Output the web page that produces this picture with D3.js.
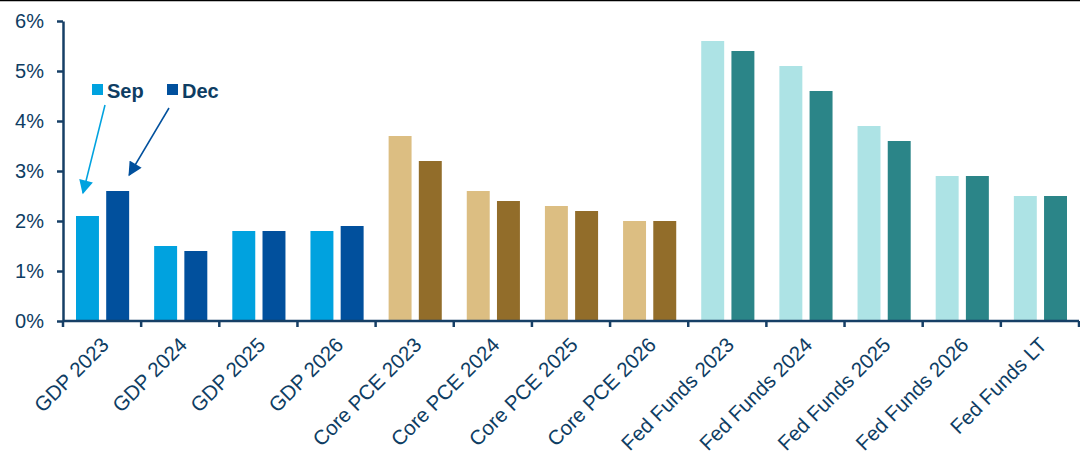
<!DOCTYPE html>
<html>
<head>
<meta charset="utf-8">
<script src="https://cdn.jsdelivr.net/npm/d3@7"></script>
<style>
  body { margin: 0; background: #fff; }
  svg { display: block; font-family: "Liberation Sans", Arial, sans-serif; }
</style>
</head>
<body>
<div id="chart"></div>
<script>
// chart data
const categories = ['GDP 2023', 'GDP 2024', 'GDP 2025', 'GDP 2026',
  'Core PCE 2023', 'Core PCE 2024', 'Core PCE 2025', 'Core PCE 2026',
  'Fed Funds 2023', 'Fed Funds 2024', 'Fed Funds 2025', 'Fed Funds 2026', 'Fed Funds LT']
const groups = ['GDP', 'GDP', 'GDP', 'GDP', 'PCE', 'PCE', 'PCE', 'PCE',
  'FED', 'FED', 'FED', 'FED', 'FED']
const sepValues = [2.1, 1.5, 1.8, 1.8, 3.7, 2.6, 2.3, 2.0, 5.6, 5.1, 3.9, 2.9, 2.5]
const decValues = [2.6, 1.4, 1.8, 1.9, 3.2, 2.4, 2.2, 2.0, 5.4, 4.6, 3.6, 2.9, 2.5]
const series = ['Sep', 'Dec']
const yTicks = [0, 1, 2, 3, 4, 5, 6]

const colors = {
  GDP: { Sep: '#00a2df', Dec: '#01509d' },
  PCE: { Sep: '#dcbe82', Dec: '#926d2a' },
  FED: { Sep: '#ade3e5', Dec: '#2b8588' }
}
const textColor = '#0e3d63'
const axisColor = '#163f66'

const svgWidth = 1080, svgHeight = 454
const margin = { top: 21, right: 1, bottom: 133, left: 63 }
const width = svgWidth - margin.left - margin.right
const height = svgHeight - margin.top - margin.bottom

const svg = d3.select('#chart').append('svg')
  .attr('width', svgWidth)
  .attr('height', svgHeight)

// thin frame line across the top
svg.append('line')
  .attr('x1', 0).attr('x2', svgWidth)
  .attr('y1', 0.5).attr('y2', 0.5)
  .attr('stroke', '#000').attr('stroke-width', 1.5)

const g = svg.append('g')
  .attr('transform', `translate(${margin.left},${margin.top})`)

const x = d3.scaleBand().domain(categories).range([0, width]).paddingInner(0).paddingOuter(0)
const x1 = d3.scaleBand().domain(series).range([13, x.bandwidth() - 12]).paddingInner(0.24)
const y = d3.scaleLinear().domain([0, 6]).range([height, 0])

// bars
const rows = categories.map((c, i) => ({ cat: c, grp: groups[i], Sep: sepValues[i], Dec: decValues[i] }))
const cat = g.selectAll('g.cat').data(rows).enter().append('g')
  .attr('class', 'cat')
  .attr('transform', d => `translate(${x(d.cat)},0)`)
cat.selectAll('rect')
  .data(d => series.map(s => ({ s, v: d[s], grp: d.grp })))
  .enter().append('rect')
  .attr('x', d => x1(d.s))
  .attr('width', x1.bandwidth())
  .attr('y', d => y(d.v))
  .attr('height', d => y(0) - y(d.v))
  .attr('fill', d => colors[d.grp][d.s])

// y axis
const yAxis = g.append('g')
  .call(d3.axisLeft(y).tickValues(yTicks).tickFormat(d => d + '%').tickSize(6).tickSizeOuter(0))
yAxis.select('.domain').attr('stroke', axisColor).attr('stroke-width', 2.5)
yAxis.selectAll('.tick line').attr('stroke', axisColor).attr('stroke-width', 2.5)
yAxis.selectAll('.tick text')
  .attr('fill', textColor).attr('font-size', 20).attr('x', -19)
  .attr('font-family', '"Liberation Sans", Arial, sans-serif')

// x axis: line plus ticks at band boundaries
const xAxis = g.append('g').attr('transform', `translate(0,${height})`)
xAxis.append('line')
  .attr('x1', 0).attr('x2', width)
  .attr('stroke', axisColor).attr('stroke-width', 2.5)
xAxis.selectAll('line.tk')
  .data(categories.map(c => x(c)).concat([width]))
  .enter().append('line')
  .attr('class', 'tk')
  .attr('x1', d => d).attr('x2', d => d)
  .attr('y1', 0).attr('y2', 6)
  .attr('stroke', axisColor).attr('stroke-width', 2.5)
xAxis.selectAll('text')
  .data(categories)
  .enter().append('text')
  .attr('transform', d => `translate(${x(d) + x.bandwidth() / 2 + 3},${20}) rotate(-45)`)
  .attr('text-anchor', 'end')
  .attr('dy', '0.35em')
  .attr('fill', textColor)
  .attr('font-size', 20.5)
  .text(d => d)

// legend
const legend = [
  { s: 'Sep', lx: 92, color: colors.GDP.Sep },
  { s: 'Dec', lx: 167, color: colors.GDP.Dec }
]
const lg = svg.selectAll('g.lg').data(legend).enter().append('g').attr('class', 'lg')
lg.append('rect')
  .attr('x', d => d.lx).attr('y', 84)
  .attr('width', 11).attr('height', 11)
  .attr('fill', d => d.color)
lg.append('text')
  .attr('x', d => d.lx + 15).attr('y', 98)
  .attr('font-size', 20).attr('font-weight', 'bold')
  .attr('fill', textColor)
  .text(d => d.s)

// arrows from legend to the first pair of bars
const defs = svg.append('defs')
legend.forEach(d => {
  defs.append('marker')
    .attr('id', 'arr' + d.s)
    .attr('viewBox', '0 0 10 10')
    .attr('refX', 9).attr('refY', 5)
    .attr('markerWidth', 15).attr('markerHeight', 14)
    .attr('markerUnits', 'userSpaceOnUse')
    .attr('orient', 'auto')
    .append('path').attr('d', 'M0,0 L10,5 L0,10 Z').attr('fill', d.color)
})
const first = rows[0]
const tipSep = [margin.left + x(first.cat) + x1('Sep') + 7, margin.top + y(first.Sep) - 23]
const tipDec = [margin.left + x(first.cat) + x1('Dec') + 23, margin.top + y(first.Dec) - 16]
svg.append('line')
  .attr('x1', 105).attr('y1', 105).attr('x2', tipSep[0]).attr('y2', tipSep[1])
  .attr('stroke', colors.GDP.Sep).attr('stroke-width', 1.5)
  .attr('marker-end', 'url(#arrSep)')
svg.append('line')
  .attr('x1', 169).attr('y1', 108).attr('x2', tipDec[0]).attr('y2', tipDec[1])
  .attr('stroke', colors.GDP.Dec).attr('stroke-width', 1.5)
  .attr('marker-end', 'url(#arrDec)')
</script>
</body>
</html>
